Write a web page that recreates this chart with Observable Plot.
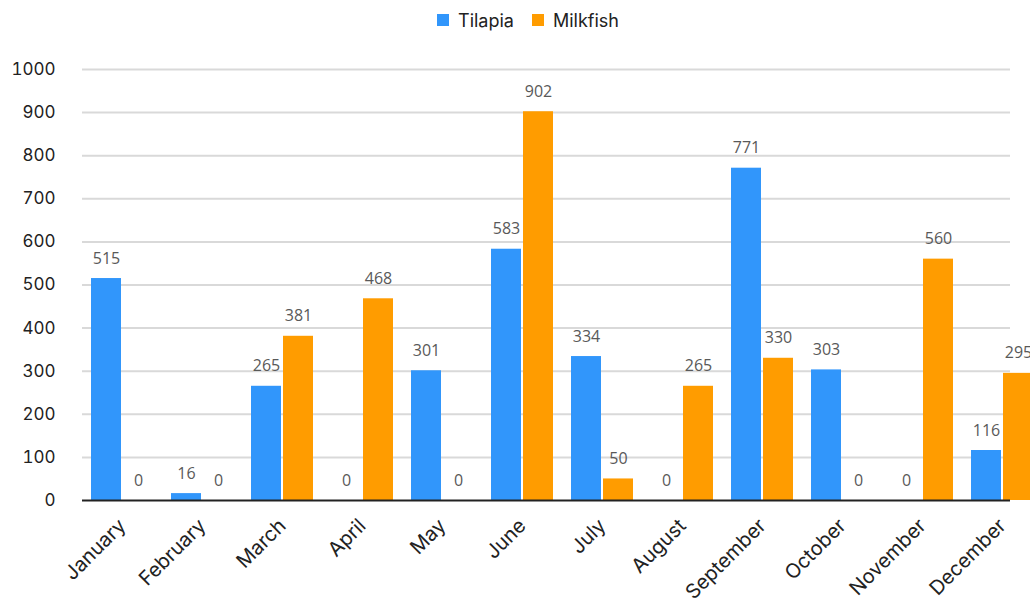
<!DOCTYPE html>
<html>
<head>
<meta charset="utf-8">
<script src="https://cdn.jsdelivr.net/npm/d3@7"></script>
<script src="https://cdn.jsdelivr.net/npm/@observablehq/plot@0.6"></script>
<style>
  html, body { margin: 0; padding: 0; background: #fff; overflow: hidden; }
  #legend { height: 40px; display: flex; align-items: center; justify-content: center; padding-left: 44px; box-sizing: border-box; }
  #chart svg { display: block; }
</style>
</head>
<body>
<div id="legend"></div>
<div id="chart"></div>
<script>
const months = ["January","February","March","April","May","June","July","August","September","October","November","December"];
const seriesNames = ["Tilapia", "Milkfish"];
const seriesColors = ["#3196fb", "#ff9c00"];
const tilapia  = [515, 16, 265, 0, 301, 583, 334, 0, 771, 303, 0, 116];
const milkfish = [0, 0, 381, 468, 0, 902, 50, 265, 330, 0, 560, 295];
const yTicks = [0, 100, 200, 300, 400, 500, 600, 700, 800, 900, 1000];

const data = months.flatMap((m, i) => [
  {month: m, series: "Tilapia", value: tilapia[i]},
  {month: m, series: "Milkfish", value: milkfish[i]}
]);
const tData = data.filter(d => d.series === "Tilapia");
const mData = data.filter(d => d.series === "Milkfish");

const legend = Plot.legend({
  color: {domain: seriesNames, range: seriesColors},
  legend: "swatches",
  swatchSize: 12,
  style: {fontFamily: "Inter", fontSize: "18px", color: "#222", margin: "0"}
});
document.getElementById("legend").append(legend);

const chart = Plot.plot({
  width: 1030,
  height: 574,
  marginLeft: 82,
  marginTop: 29,
  marginBottom: 114,
  style: {fontFamily: "Inter", fontSize: "17px", color: "#222", background: "#fff"},
  x: {domain: months, padding: 0, range: [82, 1042], label: null},
  y: {domain: [0, 1000], label: null},
  color: {domain: seriesNames, range: seriesColors},
  marks: [
    Plot.ruleY(yTicks.filter(d => d > 0), {stroke: "#d9d9d9", strokeWidth: 2}),
    Plot.barY(tData, {x: "month", y: "value", fill: "series", insetLeft: 9, insetRight: 41}),
    Plot.barY(mData, {x: "month", y: "value", fill: "series", insetLeft: 41, insetRight: 9}),
    Plot.text(tData, {x: "month", y: "value", text: d => String(d.value), dx: -16, dy: -20, fill: "#595959", fontSize: 16, fontFamily: "Open Sans"}),
    Plot.text(mData, {x: "month", y: "value", text: d => String(d.value), dx: 16, dy: -20, fill: "#595959", fontSize: 16, fontFamily: "Open Sans"}),
    Plot.ruleY([0], {stroke: "#222", strokeWidth: 2}),
    Plot.axisY({ticks: yTicks, tickSize: 0, tickPadding: 27, tickFormat: d => String(d), fontSize: 17}),
    Plot.axisX({tickSize: 0, tickPadding: 22, tickRotate: -45, fontSize: 20})
  ]
});
document.getElementById("chart").append(chart);
</script>
</body>
</html>
